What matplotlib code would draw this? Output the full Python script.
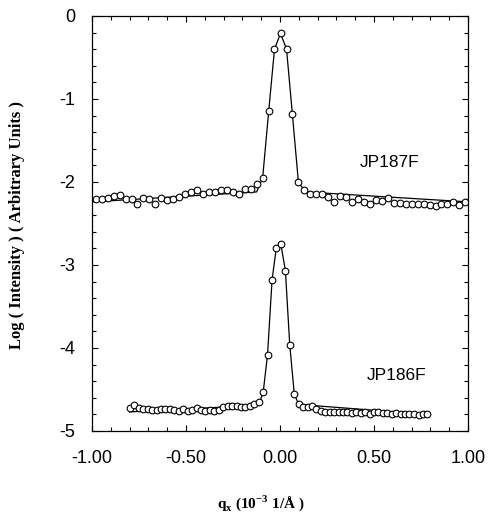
import numpy as np
import matplotlib
matplotlib.use("Agg")
import matplotlib.pyplot as plt
from matplotlib.ticker import MultipleLocator, FixedFormatter, FixedLocator

# measured points, sample JP187F
x187 = [-0.980, -0.948, -0.916, -0.885, -0.853, -0.821, -0.789, -0.758, -0.726, -0.694,
        -0.663, -0.631, -0.599, -0.568, -0.536, -0.504, -0.472, -0.441, -0.409, -0.377,
        -0.346, -0.314, -0.282, -0.250, -0.219, -0.187, -0.155, -0.124,
        -0.092, -0.060, -0.029, 0.003, 0.035, 0.066, 0.098,
        0.130, 0.162, 0.193, 0.225, 0.257, 0.288, 0.320, 0.352, 0.384, 0.415,
        0.447, 0.479, 0.510, 0.542, 0.574, 0.606, 0.637, 0.669, 0.701, 0.732,
        0.764, 0.796, 0.828, 0.859, 0.891, 0.923, 0.954, 0.986]
y187 = [-2.20, -2.21, -2.19, -2.17, -2.16, -2.20, -2.20, -2.26, -2.19, -2.21,
        -2.26, -2.19, -2.22, -2.21, -2.18, -2.14, -2.12, -2.10, -2.14, -2.12,
        -2.12, -2.10, -2.10, -2.12, -2.15, -2.08, -2.08, -2.02,
        -1.95, -1.15, -0.40, -0.21, -0.40, -1.18, -2.00,
        -2.10, -2.14, -2.15, -2.15, -2.18, -2.24, -2.17, -2.18, -2.24, -2.21,
        -2.24, -2.26, -2.22, -2.23, -2.19, -2.25, -2.25, -2.26, -2.26, -2.26,
        -2.26, -2.28, -2.29, -2.26, -2.26, -2.24, -2.28, -2.24]

# fit curve, JP187F
fit187_x = [-1.00, -0.124, -0.092, -0.060, -0.029, 0.003, 0.035, 0.066, 0.098, 0.135, 1.00]
fit187_y = [-2.24, -2.12, -1.95, -1.15, -0.40, -0.21, -0.40, -1.18, -2.00, -2.12, -2.24]

# measured points, sample JP186F
x186 = [-0.797, -0.774, -0.750, -0.727, -0.703, -0.679, -0.656, -0.632, -0.609, -0.585,
        -0.561, -0.538, -0.514, -0.491, -0.467, -0.443, -0.420, -0.396, -0.373, -0.349,
        -0.325, -0.302, -0.278, -0.255, -0.231, -0.207, -0.184, -0.160, -0.137, -0.113,
        -0.089, -0.066, -0.042, -0.019, 0.005, 0.029, 0.052, 0.076,
        0.099, 0.123, 0.147, 0.170, 0.194, 0.217, 0.241, 0.265, 0.288, 0.312,
        0.335, 0.359, 0.383, 0.406, 0.430, 0.453, 0.477, 0.501, 0.524, 0.548,
        0.571, 0.595, 0.619, 0.642, 0.666, 0.689, 0.713, 0.737, 0.760, 0.784]
y186 = [-4.72, -4.69, -4.72, -4.73, -4.74, -4.75, -4.75, -4.74, -4.74, -4.74,
        -4.75, -4.76, -4.74, -4.76, -4.75, -4.72, -4.75, -4.76, -4.75, -4.76,
        -4.75, -4.71, -4.70, -4.70, -4.70, -4.71, -4.71, -4.70, -4.68, -4.65,
        -4.53, -4.08, -3.18, -2.79, -2.75, -3.07, -3.96, -4.55,
        -4.67, -4.71, -4.71, -4.70, -4.74, -4.76, -4.77, -4.77, -4.77, -4.77,
        -4.77, -4.77, -4.78, -4.77, -4.78, -4.77, -4.79, -4.77, -4.77, -4.78,
        -4.78, -4.79, -4.78, -4.80, -4.79, -4.80, -4.80, -4.81, -4.80, -4.80]

# fit curve, JP186F
fit186_x = [-0.80, -0.113, -0.089, -0.066, -0.042, -0.019, 0.005, 0.029, 0.052, 0.076, 0.099, 0.784]
fit186_y = [-4.77, -4.69, -4.53, -4.08, -3.18, -2.79, -2.75, -3.07, -3.96, -4.55, -4.68, -4.80]

xtick_vals = [-1.0, -0.5, 0.0, 0.5, 1.0]
xtick_text = ["-1.00", "-0.50", "0.00", "0.50", "1.00"]
ytick_vals = [0, -1, -2, -3, -4, -5]
ytick_text = ["0", "-1", "-2", "-3", "-4", "-5"]

plt.rcParams["font.family"] = ["Liberation Sans", "DejaVu Sans"]

fig = plt.figure(figsize=(4.89, 5.14), dpi=100)
ax = fig.add_axes([0.188, 0.1615, 0.769, 0.8075])

for fx, fy, px, py in [(fit187_x, fit187_y, x187, y187), (fit186_x, fit186_y, x186, y186)]:
    ax.plot(fx, fy, color="black", lw=0.9)
    ax.plot(px, py, "o", ms=4.8, mfc="white", mec="black", mew=0.8)

ax.text(0.585, -1.77, "JP187F", fontsize=12.5, ha="center", va="center")
ax.text(0.62, -4.33, "JP186F", fontsize=12.5, ha="center", va="center")

ax.set_xlim(-1.0, 1.0)
ax.set_ylim(-5.0, 0.0)
ax.xaxis.set_major_locator(FixedLocator(xtick_vals))
ax.xaxis.set_major_formatter(FixedFormatter(xtick_text))
ax.yaxis.set_major_locator(FixedLocator(ytick_vals))
ax.yaxis.set_major_formatter(FixedFormatter(ytick_text))
ax.xaxis.set_minor_locator(MultipleLocator(0.1))
ax.yaxis.set_minor_locator(MultipleLocator(0.2))
ax.tick_params(which="both", direction="in", top=True, right=True, width=0.8)
ax.tick_params(which="major", length=4.5)
ax.tick_params(which="minor", length=3)
ax.tick_params(axis="x", which="major", pad=14, labelsize=13)
ax.tick_params(axis="y", which="major", pad=12, labelsize=13)
for sp in ax.spines.values():
    sp.set_linewidth(0.9)

fig.text(0.534, 0.022, r"q$_\mathregular{x}$ (10$^\mathregular{-3}$ 1/Å )", family="Liberation Serif",
         fontsize=11, fontweight="bold", ha="center", va="center")
fig.text(0.035, 0.562, "Log ( Intensity ) ( Arbitrary Units )", family="Liberation Serif",
         fontsize=12, fontweight="bold", rotation=90, ha="center", va="center")

fig.savefig("out.png", dpi=100)
